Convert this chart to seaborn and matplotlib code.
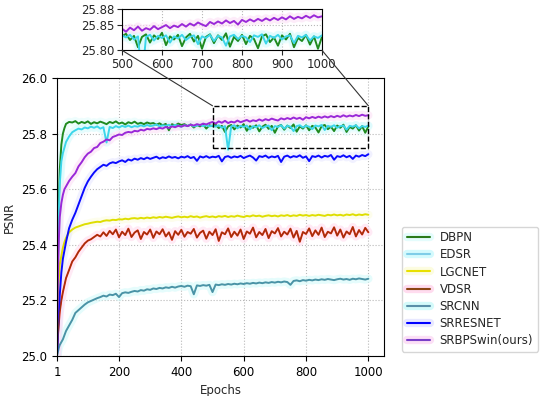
import numpy as np
import pandas as pd
import seaborn as sns
import matplotlib.pyplot as plt
from matplotlib.patches import Rectangle, ConnectionPatch
from matplotlib.lines import Line2D

# ==========================================
# DATA (PSNR per epoch)
# ==========================================
EPOCHS = [1, 3, 5, 7, 10, 15, 20, 25, 30, 40] + list(range(50, 1001, 10))

DBPN = [25.00, 25.22, 25.42, 25.56, 25.67, 25.76, 25.80, 25.82, 25.835, 25.842,
        25.840, 25.845, 25.836, 25.842, 25.838, 25.844, 25.835, 25.841, 25.837, 25.843,
        25.839, 25.834, 25.842, 25.838, 25.844, 25.836, 25.840, 25.833, 25.841, 25.837,
        25.843, 25.835, 25.839, 25.834, 25.840, 25.836,
        25.838, 25.832, 25.837, 25.830, 25.835, 25.812, 25.834, 25.829, 25.836, 25.831,
        25.834, 25.827, 25.833, 25.822, 25.831, 25.826, 25.833, 25.818, 25.830, 25.827,
        25.832, 25.820, 25.828, 25.806, 25.826, 25.831, 25.815, 25.829, 25.822, 25.834,
        25.810, 25.827, 25.821, 25.830, 25.808, 25.825, 25.832, 25.817, 25.828, 25.803,
        25.826, 25.831, 25.814, 25.829, 25.820, 25.833, 25.807, 25.826, 25.818, 25.830,
        25.812, 25.828, 25.822, 25.804, 25.827, 25.831, 25.816, 25.825, 25.809, 25.829,
        25.821, 25.832, 25.806, 25.824, 25.818, 25.830, 25.811, 25.827, 25.803, 25.826]

EDSR = [25.00, 25.20, 25.40, 25.52, 25.62, 25.70, 25.73, 25.75, 25.77, 25.79,
        25.805, 25.812, 25.818, 25.815, 25.822, 25.819, 25.825, 25.821, 25.826, 25.818,
        25.823, 25.768, 25.824, 25.820, 25.827, 25.822, 25.828, 25.824, 25.829, 25.823,
        25.827, 25.825, 25.830, 25.826, 25.831, 25.827,
        25.829, 25.833, 25.826, 25.830, 25.828, 25.832, 25.827, 25.831, 25.829, 25.825,
        25.830, 25.828, 25.832, 25.826, 25.829, 25.831, 25.827, 25.830, 25.826, 25.829,
        25.825, 25.830, 25.821, 25.827, 25.742, 25.826, 25.830, 25.819, 25.828, 25.824,
        25.829, 25.815, 25.827, 25.823, 25.830, 25.820, 25.826, 25.829, 25.812, 25.827,
        25.824, 25.830, 25.818, 25.828, 25.825, 25.809, 25.827, 25.830, 25.822, 25.828,
        25.825, 25.816, 25.829, 25.826, 25.831, 25.813, 25.828, 25.824, 25.830, 25.821,
        25.827, 25.829, 25.814, 25.828, 25.825, 25.830, 25.819, 25.827, 25.824, 25.829]

LGCNET = [25.00, 25.12, 25.22, 25.28, 25.33, 25.36, 25.39, 25.41, 25.425, 25.445,
          25.455, 25.462, 25.466, 25.470, 25.474, 25.476, 25.479, 25.481, 25.483, 25.482,
          25.486, 25.488, 25.487, 25.490, 25.489, 25.492, 25.491, 25.494, 25.492, 25.495,
          25.496, 25.494, 25.497, 25.495, 25.498, 25.496,
          25.499, 25.497, 25.500, 25.498, 25.501, 25.499, 25.497, 25.500, 25.502, 25.499,
          25.501, 25.499, 25.503, 25.500, 25.502, 25.498, 25.501, 25.503, 25.500, 25.502,
          25.499, 25.503, 25.501, 25.504, 25.500, 25.503, 25.501, 25.505, 25.502, 25.500,
          25.504, 25.502, 25.506, 25.503, 25.505, 25.501, 25.504, 25.506, 25.503, 25.505,
          25.502, 25.506, 25.504, 25.507, 25.503, 25.506, 25.504, 25.508, 25.505, 25.507,
          25.504, 25.507, 25.505, 25.508, 25.506, 25.504, 25.508, 25.506, 25.509, 25.506,
          25.508, 25.505, 25.509, 25.507, 25.510, 25.506, 25.509, 25.507, 25.510, 25.508]

VDSR = [25.00, 25.05, 25.09, 25.12, 25.16, 25.20, 25.23, 25.255, 25.28, 25.31,
        25.340, 25.355, 25.375, 25.390, 25.405, 25.415, 25.420, 25.428, 25.436, 25.430,
        25.445, 25.432, 25.450, 25.438, 25.455, 25.427, 25.447, 25.435, 25.458, 25.428,
        25.444, 25.452, 25.421, 25.446, 25.437, 25.455,
        25.425, 25.448, 25.438, 25.456, 25.430, 25.445, 25.418, 25.449, 25.436, 25.454,
        25.429, 25.446, 25.440, 25.457, 25.426, 25.443, 25.451, 25.422, 25.447, 25.435,
        25.456, 25.414, 25.445, 25.438, 25.459, 25.428, 25.447, 25.433, 25.455, 25.421,
        25.448, 25.440, 25.462, 25.427, 25.446, 25.435, 25.457, 25.424, 25.449, 25.441,
        25.460, 25.430, 25.447, 25.437, 25.458, 25.426, 25.450, 25.411, 25.446, 25.439,
        25.459, 25.431, 25.452, 25.436, 25.462, 25.428, 25.447, 25.441, 25.463, 25.433,
        25.455, 25.426, 25.448, 25.438, 25.464, 25.430, 25.453, 25.437, 25.461, 25.445]

SRCNN = [25.00, 25.01, 25.02, 25.03, 25.04, 25.05, 25.06, 25.075, 25.09, 25.11,
         25.130, 25.155, 25.165, 25.175, 25.185, 25.193, 25.198, 25.203, 25.208, 25.212,
         25.217, 25.214, 25.221, 25.219, 25.224, 25.212, 25.226, 25.229, 25.227, 25.231,
         25.234, 25.232, 25.237, 25.235, 25.240, 25.238,
         25.243, 25.241, 25.245, 25.243, 25.247, 25.245, 25.249, 25.246, 25.250, 25.252,
         25.249, 25.253, 25.251, 25.222, 25.254, 25.252, 25.255, 25.253, 25.256, 25.230,
         25.257, 25.255, 25.258, 25.256, 25.259, 25.257, 25.260, 25.258, 25.261, 25.259,
         25.262, 25.260, 25.263, 25.261, 25.264, 25.262, 25.265, 25.263, 25.266, 25.264,
         25.267, 25.265, 25.268, 25.266, 25.256, 25.270, 25.272, 25.269, 25.273, 25.271,
         25.274, 25.272, 25.275, 25.273, 25.276, 25.274, 25.277, 25.275, 25.273, 25.276,
         25.278, 25.275, 25.277, 25.274, 25.278, 25.276, 25.279, 25.277, 25.275, 25.278]

SRRESNET = [25.00, 25.05, 25.10, 25.15, 25.22, 25.30, 25.35, 25.38, 25.41, 25.46,
            25.490, 25.515, 25.545, 25.575, 25.605, 25.628, 25.645, 25.660, 25.672, 25.680,
            25.688, 25.684, 25.693, 25.697, 25.694, 25.700, 25.704, 25.698, 25.707, 25.703,
            25.710, 25.706, 25.712, 25.708, 25.714, 25.709,
            25.713, 25.717, 25.710, 25.715, 25.712, 25.718, 25.713, 25.716, 25.711, 25.717,
            25.714, 25.719, 25.712, 25.716, 25.702, 25.718, 25.714, 25.719, 25.713, 25.717,
            25.715, 25.720, 25.700, 25.716, 25.719, 25.713, 25.718, 25.715, 25.720, 25.712,
            25.717, 25.721, 25.714, 25.703, 25.719, 25.716, 25.721, 25.713, 25.718, 25.715,
            25.720, 25.698, 25.717, 25.721, 25.714, 25.719, 25.716, 25.722, 25.713, 25.718,
            25.701, 25.719, 25.716, 25.721, 25.714, 25.720, 25.717, 25.723, 25.706, 25.719,
            25.716, 25.722, 25.715, 25.720, 25.709, 25.721, 25.717, 25.723, 25.719, 25.726]

SRBPSWIN = [25.00, 25.20, 25.33, 25.42, 25.50, 25.55, 25.58, 25.60, 25.61, 25.63,
            25.645, 25.658, 25.682, 25.697, 25.715, 25.728, 25.735, 25.748, 25.752, 25.766,
            25.771, 25.779, 25.776, 25.788, 25.792, 25.797, 25.795, 25.803, 25.806, 25.804,
            25.810, 25.808, 25.814, 25.811, 25.817, 25.815,
            25.819, 25.816, 25.821, 25.818, 25.824, 25.820, 25.826, 25.823, 25.828, 25.825,
            25.830, 25.827, 25.832, 25.829, 25.834, 25.831, 25.836, 25.833, 25.838, 25.842,
            25.836, 25.844, 25.839, 25.846, 25.838, 25.843, 25.840, 25.847, 25.841, 25.845,
            25.849, 25.843, 25.848, 25.845, 25.851, 25.846, 25.852, 25.848, 25.854, 25.850,
            25.847, 25.855, 25.851, 25.856, 25.852, 25.858, 25.853, 25.857, 25.850, 25.859,
            25.855, 25.860, 25.856, 25.861, 25.857, 25.862, 25.858, 25.863, 25.859, 25.864,
            25.860, 25.866, 25.861, 25.865, 25.862, 25.867, 25.863, 25.868, 25.864, 25.866]

LABELS = ["DBPN", "EDSR", "LGCNET", "VDSR", "SRCNN", "SRRESNET", "SRBPSwin(ours)"]
SERIES = [DBPN, EDSR, LGCNET, VDSR, SRCNN, SRRESNET, SRBPSWIN]

# line colour on the plot, colour in the legend, pale band colour
LINE_COLORS = ["#1f8a1f", "#3cd6ea", "#dede00", "#e0200c", "#4a93a6", "#0a0aff", "#9a28d8"]
LEGEND_COLORS = ["#2a7a1a", "#7fcde8", "#e8e000", "#8b4513", "#5a8fa8", "#0000ff", "#7a3fc8"]
BAND_COLORS = ["#e4fcfc", "#d4fafd", "#fcfce0", "#ffdcef", "#d4fafa", "#e8e8ff", "#fce0f6"]

OUTPUT_IMAGE = "out.png"

# ==========================================


def build_frame():
    rows = []
    for label, vals in zip(LABELS, SERIES):
        for ep, v in zip(EPOCHS, vals):
            rows.append((label, ep, v))
    return pd.DataFrame(rows, columns=["Model", "Epoch", "PSNR"])


def draw_curves(ax, df, main_lw=1.4, band_lw=6):
    # pale wide band behind every curve
    sns.lineplot(data=df, x="Epoch", y="PSNR", hue="Model", hue_order=LABELS,
                 palette=BAND_COLORS, linewidth=band_lw, alpha=0.6,
                 legend=False, ax=ax, estimator=None, sort=False)
    sns.lineplot(data=df, x="Epoch", y="PSNR", hue="Model", hue_order=LABELS,
                 palette=LINE_COLORS, linewidth=main_lw,
                 legend=False, ax=ax, estimator=None, sort=False)
    # brownish core for VDSR
    vd = df[df["Model"] == "VDSR"]
    sns.lineplot(data=vd, x="Epoch", y="PSNR", color="#8b3a10", linewidth=main_lw * 0.45,
                 legend=False, ax=ax, estimator=None, sort=False)


def generate_plot():
    df = build_frame()

    sns.set_style("ticks")
    plt.rcParams['font.family'] = ['DejaVu Sans']
    plt.rcParams['font.size'] = 8.5

    fig = plt.figure(figsize=(5.5, 3.96), dpi=100)
    ax = fig.add_axes([0.1036, 0.101, 0.5945, 0.702])

    draw_curves(ax, df)
    ax.set_xlim(1, 1050)
    ax.set_ylim(25.0, 26.0)
    ax.set_xticks([1, 200, 400, 600, 800, 1000])
    ax.set_yticks(np.arange(25.0, 26.01, 0.2))
    ax.set_yticklabels([f"{t:.1f}" for t in np.arange(25.0, 26.01, 0.2)])
    ax.tick_params(labelsize=8.5, length=3.5, width=0.8, colors="black")
    ax.grid(True, linestyle=":", color="#b8b8b8", linewidth=0.8)
    for s in ax.spines.values():
        s.set_color("black")
        s.set_linewidth(0.8)
    ax.set_xlabel("Epochs", fontsize=8.5)
    ax.set_ylabel("PSNR", fontsize=8.5)

    # zoomed region
    ax.add_patch(Rectangle((500, 25.75), 500, 0.15, fill=False, linestyle="--",
                           edgecolor="black", linewidth=1.0, zorder=5))

    axin = fig.add_axes([0.2218, 0.873, 0.3636, 0.104])
    draw_curves(axin, df, main_lw=1.4, band_lw=6)
    axin.set_xlim(500, 1000)
    axin.set_ylim(25.80, 25.88)
    axin.set_xticks([500, 600, 700, 800, 900, 1000])
    axin.set_yticks([25.80, 25.85, 25.88])
    axin.set_yticklabels(["25.80", "25.85", "25.88"])
    axin.tick_params(labelsize=8.5, length=3.5, width=0.8, pad=2)
    axin.grid(True, linestyle=":", color="#b8b8b8", linewidth=0.8)
    axin.set_xlabel("")
    axin.set_ylabel("")
    for s in axin.spines.values():
        s.set_color("black")
        s.set_linewidth(0.8)

    for xa, xb in [(500, 500), (1000, 1000)]:
        con = ConnectionPatch(xyA=(xa, 25.90), coordsA=ax.transData,
                              xyB=(xb, 25.80), coordsB=axin.transData,
                              color="#333333", linewidth=0.8)
        fig.add_artist(con)

    # legend: pale band + line
    handles = []
    for lc, bc in zip(LEGEND_COLORS, BAND_COLORS):
        band = Line2D([], [], color=bc, linewidth=6)
        line = Line2D([], [], color=lc, linewidth=1.5)
        handles.append((band, line))
    ax.legend(handles, LABELS, loc="lower left", bbox_to_anchor=(1.055, 0.015),
              borderaxespad=0, fontsize=8.5, labelspacing=0.35, handlelength=2.0,
              frameon=True, edgecolor="#cccccc", fancybox=True)

    fig.savefig(OUTPUT_IMAGE, dpi=100)


if __name__ == "__main__":
    generate_plot()
